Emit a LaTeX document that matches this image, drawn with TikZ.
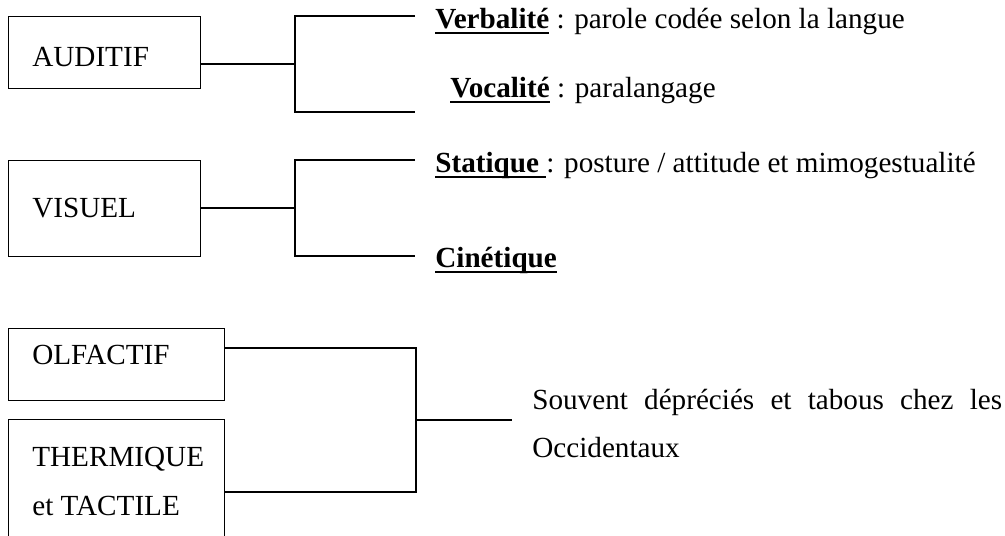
\documentclass[tikz,border=0pt]{standalone}
\usepackage{fontspec}
\setmainfont{Liberation Serif}
\usetikzlibrary{positioning}
\newcommand{\sensefont}{\fontsize{16.6}{27.9}\selectfont}
\newcommand{\ulword}[1]{\setbox0=\hbox{#1}\rlap{\copy0}\rule[-2.9pt]{\wd0}{1.1pt}}
\tikzset{
    sensebox/.style = {rectangle, draw=black, line width=0.75pt, anchor=north west, inner sep=0pt},
    boxtext/.style = {anchor=base west, inner sep=0pt, font=\sensefont},
    leaf/.style = {anchor=base west, inner sep=0pt, font=\sensefont},
    branch/.style = {draw=black, line width=0.75pt},
}

\begin{document}
\begin{tikzpicture}[x=0.02cm,y=-0.02cm]
\useasboundingbox (0,0) rectangle (1005,536);
%
\node[sensebox, minimum width=3.84cm, minimum height=1.44cm] at (8,16) (aud) {};
\node[sensebox, minimum width=3.84cm, minimum height=1.92cm] at (8,160) (vis) {};
\node[sensebox, minimum width=4.32cm, minimum height=1.44cm] at (8,328) (olf) {};
\node[sensebox, minimum width=4.32cm, minimum height=2.82cm] at (8,419) (the) {};
%
\node[boxtext] at (32,67) (audt) {AUDITIF};
\node[boxtext] at (32,218) (vist) {VISUEL};
\node[boxtext] at (32,365) (olft) {OLFACTIF};
\node[boxtext] at (32,467) (thet) {THERMIQUE};
\node[boxtext] at (32,516) (tact) {et TACTILE};
%
\node[leaf] at (435,29) (verb) {\ulword{\textbf{Verbalité}} : parole codée selon la langue};
\node[leaf] at (450,98) (voc) {\ulword{\textbf{Vocalité}} : paralangage};
\node[leaf] at (435,173) (stat) {\ulword{\textbf{Statique}\ }: posture / attitude et mimogestualité};
\node[leaf] at (435,268) (cin) {\ulword{\textbf{Cinétique}}};
\node[leaf] at (532,410) (sou) {\makebox[9.4cm][s]{Souvent dépréciés et tabous chez les}};
\node[leaf] at (532,458) (occ) {Occidentaux};
%
\coordinate (audj) at (295,64);
\coordinate (verbj) at (415,16);
\coordinate (vocj) at (415,112);
\coordinate (visj) at (295,208);
\coordinate (statj) at (415,160);
\coordinate (cinj) at (415,256);
\coordinate (olfj) at (416,348);
\coordinate (thej) at (416,492);
\coordinate (jn) at (416,420);
\coordinate (souj) at (512,420);
%
\draw[branch] (aud.east |- audj) -- (audj);
\draw[branch] (verbj) -| (audj) |- (vocj);
\draw[branch] (vis.east |- visj) -- (visj);
\draw[branch] (statj) -| (visj) |- (cinj);
\draw[branch] (olf.east |- olfj) -- (olfj) -- (thej) -- (the.east |- thej);
\draw[branch] (jn) -- (souj);

\end{tikzpicture}
\end{document}
